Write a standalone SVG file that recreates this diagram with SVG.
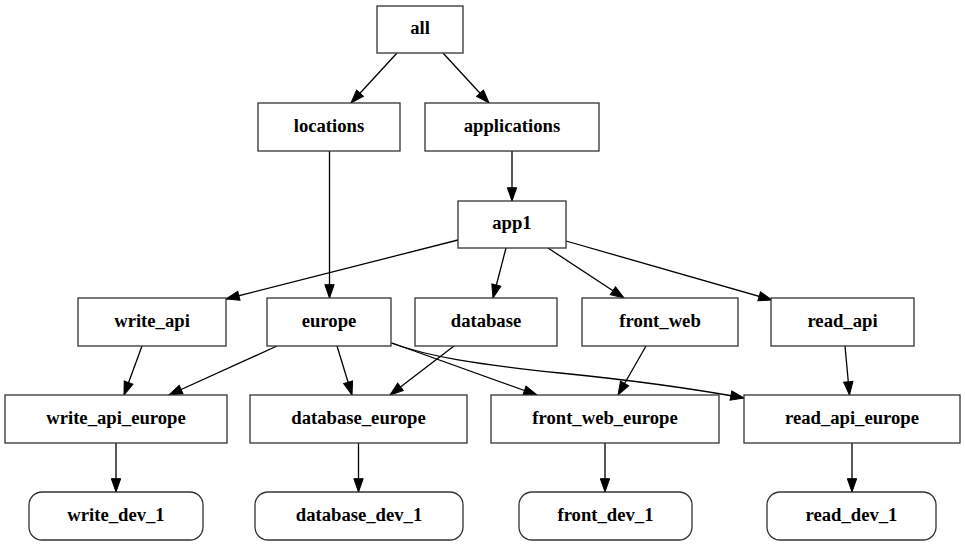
<svg xmlns="http://www.w3.org/2000/svg" width="965" height="547" viewBox="0 0 965 547">
<style>
.n rect{fill:#fff;stroke:#333;stroke-width:1.3}
.n text{font-family:'Times New Roman','Liberation Serif','DejaVu Serif',serif;font-weight:700;font-size:18.67px;text-anchor:middle;fill:#000}
.e path{fill:none;stroke:#000;stroke-width:1.3}
</style>
<defs>
<marker id="ah" markerUnits="userSpaceOnUse" markerWidth="14" markerHeight="10" refX="13.3" refY="4.67" orient="auto" overflow="visible">
<path d="M0,0 L13.3,4.67 L0,9.33 z" fill="#000" stroke="#000" stroke-width="1"/>
</marker>
</defs>
<rect width="965" height="547" fill="#fff"/>
<g id="edges" class="e">
<path marker-end="url(#ah)" d="M397,53 L351,103"/>
<path marker-end="url(#ah)" d="M443,53 L489,103"/>
<path marker-end="url(#ah)" d="M329.5,151 L329.5,298"/>
<path marker-end="url(#ah)" d="M512,151 L512,201"/>
<path marker-end="url(#ah)" d="M458,240 L226,299"/>
<path marker-end="url(#ah)" d="M506,248 L493,298"/>
<path marker-end="url(#ah)" d="M548,248 L624,298"/>
<path marker-end="url(#ah)" d="M566,241 L772,300"/>
<path marker-end="url(#ah)" d="M142,346 L124,395"/>
<path marker-end="url(#ah)" d="M277,346 L169,395"/>
<path marker-end="url(#ah)" d="M337,346 L352,395"/>
<path marker-end="url(#ah)" d="M392,343 L537,395"/>
<path marker-end="url(#ah)" d="M391,343 C430,357 475,364 560,373 C640,381 700,390 744,398"/>
<path marker-end="url(#ah)" d="M454,346 L390,395"/>
<path marker-end="url(#ah)" d="M646,346 L618,395"/>
<path marker-end="url(#ah)" d="M845,346 L849.5,395"/>
<path marker-end="url(#ah)" d="M116,443 L116,492"/>
<path marker-end="url(#ah)" d="M358.5,443 L358.5,492"/>
<path marker-end="url(#ah)" d="M605,443 L605,492"/>
<path marker-end="url(#ah)" d="M852,443 L852,492"/>
</g>
<g id="all" class="n"><rect x="377" y="6" width="86" height="47"/><text x="420" y="34">all</text></g>
<g id="locations" class="n"><rect x="258" y="103" width="142" height="48"/><text x="329" y="132">locations</text></g>
<g id="applications" class="n"><rect x="425" y="103" width="174" height="48"/><text x="512" y="132">applications</text></g>
<g id="app1" class="n"><rect x="458" y="201" width="108" height="47"/><text x="512" y="229">app1</text></g>
<g id="write_api" class="n"><rect x="78" y="298" width="148" height="48"/><text x="152" y="327">write_api</text></g>
<g id="europe" class="n"><rect x="267" y="298" width="124" height="48"/><text x="329" y="327">europe</text></g>
<g id="database" class="n"><rect x="415" y="298" width="142" height="48"/><text x="486" y="327">database</text></g>
<g id="front_web" class="n"><rect x="582" y="298" width="156" height="48"/><text x="660" y="327">front_web</text></g>
<g id="read_api" class="n"><rect x="771" y="298" width="143" height="48"/><text x="842.5" y="327">read_api</text></g>
<g id="write_api_europe" class="n"><rect x="5" y="395" width="222" height="48"/><text x="116" y="424">write_api_europe</text></g>
<g id="database_europe" class="n"><rect x="250" y="395" width="217" height="48"/><text x="358.5" y="424">database_europe</text></g>
<g id="front_web_europe" class="n"><rect x="491" y="395" width="228" height="48"/><text x="605" y="424">front_web_europe</text></g>
<g id="read_api_europe" class="n"><rect x="744" y="395" width="216" height="48"/><text x="852" y="424">read_api_europe</text></g>
<g id="write_dev_1" class="n"><rect x="29" y="492" width="174" height="48" rx="13"/><text x="116" y="521">write_dev_1</text></g>
<g id="database_dev_1" class="n"><rect x="255" y="492" width="208" height="48" rx="13"/><text x="359" y="521">database_dev_1</text></g>
<g id="front_dev_1" class="n"><rect x="519" y="492" width="173" height="48" rx="13"/><text x="605.5" y="521">front_dev_1</text></g>
<g id="read_dev_1" class="n"><rect x="767" y="492" width="169" height="48" rx="13"/><text x="851.5" y="521">read_dev_1</text></g>
</svg>
